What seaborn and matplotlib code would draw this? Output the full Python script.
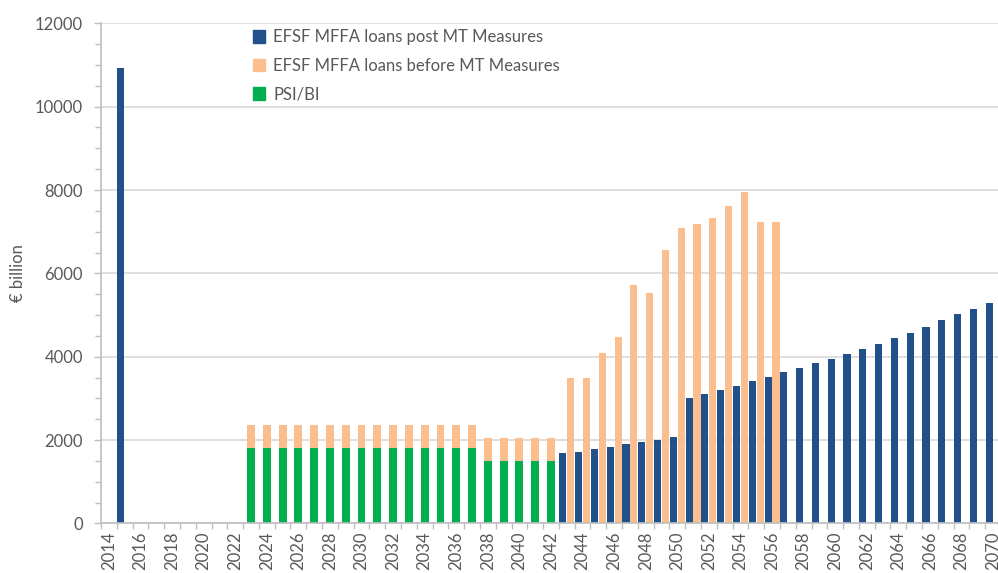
import matplotlib.pyplot as plt
import matplotlib.ticker as mticker
from matplotlib.patches import Patch
import pandas as pd
import seaborn as sns

blue = '#21508A'
orange = '#FBBF8F'
green = '#00B050'
text_grey = '#595959'
line_grey = '#BFBFBF'
grid_grey = '#D9D9D9'

years = list(range(2014, 2071))

# EUR billion
post_mt = [
    0, 10930, 0, 0, 0, 0, 0, 0, 0, 0,          # 2014-2023
    0, 0, 0, 0, 0, 0, 0, 0, 0, 0,              # 2024-2033
    0, 0, 0, 0, 0, 0, 0, 0, 0,                 # 2034-2042
    1680, 1720, 1780, 1830, 1900, 1950, 2000,  # 2043-2049
    2070, 3020, 3115, 3210, 3310, 3410, 3505,  # 2050-2056
    3630, 3720, 3840, 3945, 4055, 4185, 4300,  # 2057-2063
    4450, 4580, 4725, 4870, 5020, 5155, 5300,  # 2064-2070
]
before_mt = [
    0, 0, 0, 0, 0, 0, 0, 0, 0,                 # 2014-2022
    2360, 2360, 2360, 2360, 2360, 2360, 2360,  # 2023-2029
    2360, 2360, 2360, 2360, 2360, 2360, 2360,  # 2030-2036
    2360, 2050, 2050, 2050, 2050, 2050,        # 2037-2042
    3500, 3500, 4090, 4480, 5720, 5520, 6570,  # 2043-2049
    7080, 7180, 7330, 7625, 7960, 7225, 7225,  # 2050-2056
    0, 0, 0, 0, 0, 0, 0,                       # 2057-2063
    0, 0, 0, 0, 0, 0, 0,                       # 2064-2070
]
psi_bi = [
    0, 0, 0, 0, 0, 0, 0, 0, 0,                 # 2014-2022
    1800, 1800, 1800, 1800, 1800, 1800, 1800,  # 2023-2029
    1800, 1800, 1800, 1800, 1800, 1800, 1800,  # 2030-2036
    1800, 1500, 1500, 1500, 1500, 1500,        # 2037-2042
    0, 0, 0, 0, 0, 0, 0, 0, 0, 0, 0, 0, 0, 0,  # 2043-2056
    0, 0, 0, 0, 0, 0, 0, 0, 0, 0, 0, 0, 0, 0,  # 2057-2070
]

labels = ['EFSF MFFA loans post MT Measures',
          'EFSF MFFA loans before MT Measures',
          'PSI/BI']
split_year = 2043  # from here the two EFSF series sit side by side

sns.set_theme(style='white')
plt.rcParams['font.family'] = ['Lato', 'DejaVu Sans']

year_str = [str(y) for y in years]
df = pd.DataFrame({'year': year_str, 'post': post_mt,
                   'before': before_mt, 'psi': psi_bi})
df['before_side'] = [b if y >= split_year else 0 for y, b in zip(years, before_mt)]
df['before_stack'] = [b if y < split_year else 0 for y, b in zip(years, before_mt)]

long = df.melt(id_vars='year', value_vars=['post', 'before_side'],
               var_name='series', value_name='value')

fig = plt.figure(figsize=(9.98, 5.73), dpi=100)
ax = fig.add_axes([0.1012, 0.0864, 0.9018, 0.873])

sns.barplot(data=long, x='year', y='value', hue='series',
            hue_order=['post', 'before_side'], order=year_str,
            palette=[blue, orange], saturation=1, width=1.0, gap=0.1,
            dodge=True, linewidth=0, errorbar=None, legend=False, ax=ax)
sns.barplot(data=df, x='year', y='before_stack', order=year_str, color=orange,
            saturation=1, width=0.5, linewidth=0, errorbar=None, ax=ax)
sns.barplot(data=df, x='year', y='psi', order=year_str, color=green,
            saturation=1, width=0.5, linewidth=0, errorbar=None, ax=ax)

ax.set_xlim(-0.5, len(years) - 0.5)
ax.set_ylim(0, 12000)
ax.yaxis.set_major_locator(mticker.MultipleLocator(2000))
ax.yaxis.set_minor_locator(mticker.MultipleLocator(500))
ax.grid(axis='y', color=grid_grey, linewidth=1.2)
ax.set_axisbelow(True)

ax.set_xticks(range(0, len(years), 2))
ax.set_xticklabels(year_str[::2], rotation=90)
ax.set_xticks([i - 0.5 for i in range(len(years) + 1)], minor=True)

ax.tick_params(axis='x', which='major', length=0, pad=6,
               labelsize=12, labelcolor=text_grey)
ax.tick_params(axis='x', which='minor', length=4, width=1,
               color=line_grey, direction='out', bottom=True)
ax.tick_params(axis='y', which='major', length=5, width=1, color=line_grey,
               direction='out', left=True, pad=8,
               labelsize=12, labelcolor=text_grey)
ax.tick_params(axis='y', which='minor', length=4, width=1,
               color=line_grey, direction='out', left=True)

for side in ['top', 'right']:
    ax.spines[side].set_visible(False)
for side in ['left', 'bottom']:
    ax.spines[side].set_color(line_grey)
    ax.spines[side].set_linewidth(1.2)

ax.set_xlabel('')
ax.set_ylabel('€ billion', fontsize=12, color=text_grey, labelpad=6)

handles = [Patch(color=c) for c in [blue, orange, green]]
fig.legend(handles, labels, loc='upper left', bbox_to_anchor=(0.238, 0.975),
           frameon=False, fontsize=12, labelcolor=text_grey,
           handlelength=0.75, handleheight=0.75, handletextpad=0.5,
           labelspacing=0.75)

fig.savefig('out.png', dpi=100)
